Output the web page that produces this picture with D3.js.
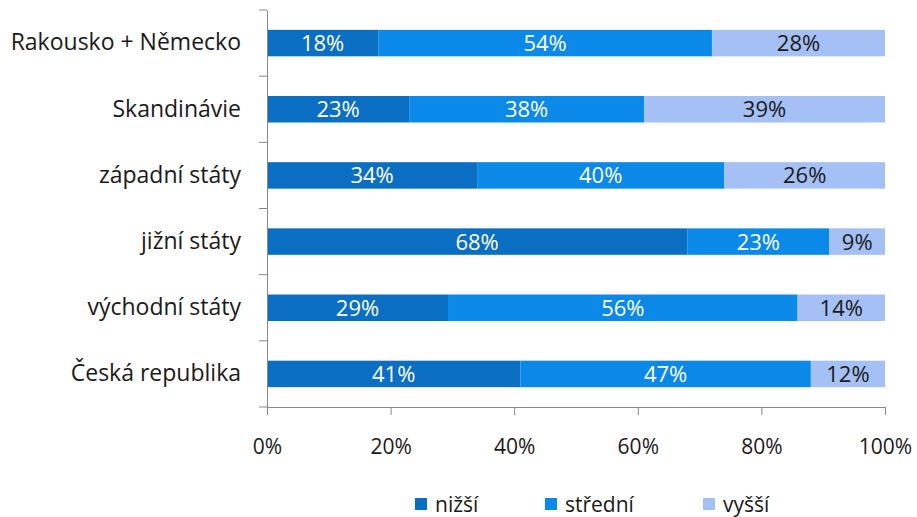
<!DOCTYPE html>
<html>
<head>
<meta charset="utf-8">
<script src="https://cdn.jsdelivr.net/npm/d3@7"></script>
<style>
  body { margin: 0; background: #fff; }
  svg { display: block; font-family: "Open Sans", "Noto Sans", sans-serif; }
</style>
</head>
<body>
<svg width="917" height="517"></svg>
<script>
// data
const regions = ["Rakousko + Německo", "Skandinávie", "západní státy", "jižní státy", "východní státy", "Česká republika"];
const nizsi   = [18, 23, 34, 68, 29, 41];
const stredni = [54, 38, 40, 23, 56, 47];
const vyssi   = [28, 39, 26, 9, 14, 12];
const seriesNames = ["nižší", "střední", "vyšší"];
const xTicks = [0, 0.2, 0.4, 0.6, 0.8, 1];

const svg = d3.select("svg");
const margin = { top: 10, right: 32, bottom: 110, left: 267 };
const innerWidth = 917 - margin.left - margin.right;
const innerHeight = 517 - margin.top - margin.bottom;

const g = svg.append("g").attr("transform", `translate(${margin.left},${margin.top})`);

const colors = ["#0a6fc2", "#0a89e8", "#a4c0f4"];
const textColors = ["#fff", "#fff", "#1a1a1a"];

// rows, 100% stacked like excel
const rows = regions.map((r, i) => {
  const vals = [nizsi[i], stredni[i], vyssi[i]];
  return { region: r, vals: vals, total: d3.sum(vals) };
});

const x = d3.scaleLinear().domain([0, 1]).range([0, innerWidth]);
const y = d3.scaleBand().domain(regions).range([0, innerHeight]).paddingInner(0.6).paddingOuter(0.3);

// bars
rows.forEach(row => {
  let acc = 0;
  row.vals.forEach((v, k) => {
    const x0 = acc / row.total, x1 = (acc + v) / row.total;
    acc += v;
    g.append("rect")
      .attr("x", x(x0))
      .attr("y", y(row.region))
      .attr("width", x(x1) - x(x0))
      .attr("height", y.bandwidth())
      .attr("fill", colors[k]);
    g.append("text")
      .attr("x", (x(x0) + x(x1)) / 2)
      .attr("y", y(row.region) + y.bandwidth() / 2)
      .attr("dy", "0.36em")
      .attr("text-anchor", "middle")
      .attr("font-size", "22px")
      .attr("fill", textColors[k])
      .text(v + "%");
  });
});

// y axis
const yAxis = g.append("g").call(d3.axisLeft(y).tickSize(0).tickPadding(26));
yAxis.select(".domain").attr("stroke", "#888");
yAxis.selectAll("text").attr("font-size", "23px").attr("fill", "#1a1a1a").attr("font-family", "Open Sans, sans-serif");
// category boundary ticks
const step = innerHeight / regions.length;
g.selectAll(".ytick").data(d3.range(regions.length + 1))
  .join("line")
  .attr("x1", -8).attr("x2", 0)
  .attr("y1", d => d * step).attr("y2", d => d * step)
  .attr("stroke", "#888");

// x axis
const xAxis = g.append("g")
  .attr("transform", `translate(0,${innerHeight})`)
  .call(d3.axisBottom(x).tickValues(xTicks).tickFormat(d3.format(".0%")).tickSizeOuter(0).tickSize(8).tickPadding(24));
xAxis.select(".domain").attr("stroke", "#888");
xAxis.selectAll(".tick line").attr("stroke", "#888");
xAxis.selectAll("text").attr("font-size", "21px").attr("fill", "#1a1a1a").attr("font-family", "Open Sans, sans-serif");

// legend
const legendX = [415, 545, 703];
const legend = svg.append("g");
seriesNames.forEach((name, k) => {
  legend.append("rect")
    .attr("x", legendX[k]).attr("y", 498)
    .attr("width", 12).attr("height", 12)
    .attr("fill", colors[k]);
  legend.append("text")
    .attr("x", legendX[k] + 20).attr("y", 504)
    .attr("dy", "0.36em")
    .attr("font-size", "21px")
    .attr("fill", "#1a1a1a")
    .text(name);
});
</script>
</body>
</html>
